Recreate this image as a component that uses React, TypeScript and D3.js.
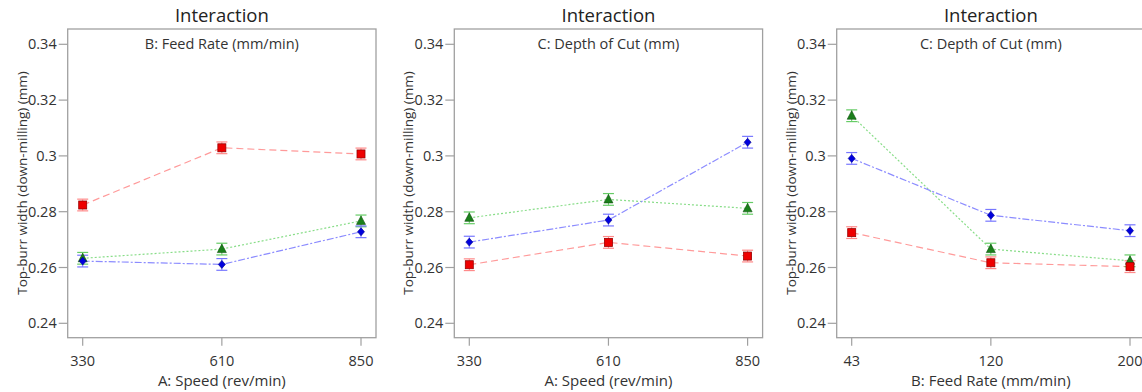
import React from "react";
import * as d3 from "d3";

// ---- data ----
const speedLevels = ["330", "610", "850"];
const feedLevels = ["43", "120", "200"];
const yTicks = [0.24, 0.26, 0.28, 0.3, 0.32, 0.34];

// Panel 1: A Speed x B Feed Rate (series = feed rate levels)
const p1Red = [0.2824, 0.3029, 0.3007];
const p1Green = [0.2633, 0.2666, 0.2767];
const p1Blue = [0.2623, 0.2611, 0.2728];

// Panel 2: A Speed x C Depth of Cut
const p2Red = [0.261, 0.269, 0.2641];
const p2Green = [0.2778, 0.2844, 0.2812];
const p2Blue = [0.2691, 0.277, 0.3049];

// Panel 3: B Feed Rate x C Depth of Cut
const p3Red = [0.2725, 0.2617, 0.2603];
const p3Green = [0.3144, 0.2666, 0.2624];
const p3Blue = [0.2991, 0.2787, 0.2732];

const errHalf = 0.0021;

const panelTitles = ["Interaction", "Interaction", "Interaction"];
const panelSubtitles = ["B: Feed Rate (mm/min)", "C: Depth of Cut (mm)", "C: Depth of Cut (mm)"];
const xTitles = ["A: Speed (rev/min)", "A: Speed (rev/min)", "B: Feed Rate (mm/min)"];
const yTitle = "Top-burr width (down-milling) (mm)";

const FONT = "'Open Sans', 'Noto Sans', sans-serif";

type Series = { values: number[]; kind: "red" | "green" | "blue" };

const styles = {
  red: { line: "#ff9a9a", dash: "7,4", err: "#ff8a8a", fill: "#ee0000", stroke: "#990000" },
  green: { line: "#88dd88", dash: "2,2", err: "#66cc66", fill: "#1a7f1a", stroke: "#0d500d" },
  blue: { line: "#8c8cff", dash: "7,2,2,2", err: "#7777ff", fill: "#0000dd", stroke: "#000088" },
};

function Marker({ kind, x, y }: { kind: string; x: number; y: number }) {
  const s = (styles as any)[kind];
  if (kind === "red") {
    return <rect x={x - 4} y={y - 4} width={8} height={8} fill={s.fill} stroke={s.stroke} strokeWidth={0.8} />;
  }
  if (kind === "green") {
    const p = `M${x},${y - 5} L${x + 4.5},${y + 3.5} L${x - 4.5},${y + 3.5} Z`;
    return <path d={p} fill={s.fill} stroke={s.stroke} strokeWidth={0.6} />;
  }
  const p = `M${x},${y - 4} L${x + 3.5},${y} L${x},${y + 4} L${x - 3.5},${y} Z`;
  return <path d={p} fill={s.fill} stroke={s.stroke} strokeWidth={0.6} />;
}

function Panel({
  left, right, levels, series, idx,
}: { left: number; right: number; levels: string[]; series: Series[]; idx: number }) {
  const top = 29;
  const bottom = 337.7;
  const x = d3.scalePoint<string>().domain(levels).range([left + 15, right - 15]);
  const y = d3.scaleLinear().domain([0.24, 0.34]).range([323.3, 44.3]);
  const cx = (left + right) / 2;
  const line = d3
    .line<number>()
    .x((_, i) => x(levels[i]) as number)
    .y((d) => y(d));
  const fmt = (v: number) => String(+v.toFixed(2));
  return (
    <g>
      <text x={cx} y={21.5} textAnchor="middle" fontSize={18.5} fill="#222" fontFamily={FONT}>
        {panelTitles[idx]}
      </text>
      <rect x={left} y={top} width={right - left} height={bottom - top} fill="none" stroke="#a0a0a0" strokeWidth={1.3} />
      <text x={cx} y={48.5} textAnchor="middle" fontSize={14.5} fill="#333" fontFamily={FONT}>
        {panelSubtitles[idx]}
      </text>
      {yTicks.map((t) => (
        <g key={t}>
          <line x1={left - 9} x2={left} y1={y(t)} y2={y(t)} stroke="#a0a0a0" strokeWidth={1.2} />
          <text x={left - 11} y={y(t) + 5} textAnchor="end" fontSize={14.5} fill="#333" fontFamily={FONT}>
            {fmt(t)}
          </text>
        </g>
      ))}
      {levels.map((l) => (
        <g key={l}>
          <line x1={x(l)} x2={x(l)} y1={bottom} y2={bottom + 8} stroke="#a0a0a0" strokeWidth={1.2} />
          <text x={x(l)} y={366} textAnchor="middle" fontSize={14.5} fill="#333" fontFamily={FONT}>
            {l}
          </text>
        </g>
      ))}
      <text x={cx} y={386} textAnchor="middle" fontSize={15} fill="#333" fontFamily={FONT}>
        {xTitles[idx]}
      </text>
      <text
        transform={`translate(${left - 41},${183}) rotate(-90)`}
        textAnchor="middle"
        fontSize={13.5}
        fill="#333"
        fontFamily={FONT}
      >
        {yTitle}
      </text>
      {series.map((s) => {
        const st = (styles as any)[s.kind];
        return (
          <path key={"l" + s.kind} d={line(s.values) || ""} fill="none" stroke={st.line} strokeWidth={1.2} strokeDasharray={st.dash} />
        );
      })}
      {series.map((s) => {
        const st = (styles as any)[s.kind];
        return (
          <g key={"e" + s.kind}>
            {s.values.map((v, i) => {
              const px = x(levels[i]) as number;
              const y1 = y(v + errHalf);
              const y2 = y(v - errHalf);
              return (
                <g key={i}>
                  <line x1={px} x2={px} y1={y1} y2={y2} stroke={st.err} strokeWidth={1} />
                  <line x1={px - 5.5} x2={px + 5.5} y1={y1} y2={y1} stroke={st.err} strokeWidth={1.2} />
                  <line x1={px - 5.5} x2={px + 5.5} y1={y2} y2={y2} stroke={st.err} strokeWidth={1.2} />
                </g>
              );
            })}
          </g>
        );
      })}
      {series.map((s) => (
        <g key={"m" + s.kind}>
          {s.values.map((v, i) => (
            <Marker key={i} kind={s.kind} x={x(levels[i]) as number} y={y(v)} />
          ))}
        </g>
      ))}
    </g>
  );
}

export default function App() {
  return (
    <svg width={1142} height={392} style={{ position: "absolute", left: 0, top: 0, background: "#fff" }}>
      <rect width={1142} height={392} fill="#fff" />
      <Panel
        idx={0}
        left={67.7}
        right={376}
        levels={speedLevels}
        series={[
          { values: p1Green, kind: "green" },
          { values: p1Blue, kind: "blue" },
          { values: p1Red, kind: "red" },
        ]}
      />
      <Panel
        idx={1}
        left={454.3}
        right={762.6}
        levels={speedLevels}
        series={[
          { values: p2Green, kind: "green" },
          { values: p2Blue, kind: "blue" },
          { values: p2Red, kind: "red" },
        ]}
      />
      <Panel
        idx={2}
        left={836.7}
        right={1145}
        levels={feedLevels}
        series={[
          { values: p3Green, kind: "green" },
          { values: p3Blue, kind: "blue" },
          { values: p3Red, kind: "red" },
        ]}
      />
    </svg>
  );
}
